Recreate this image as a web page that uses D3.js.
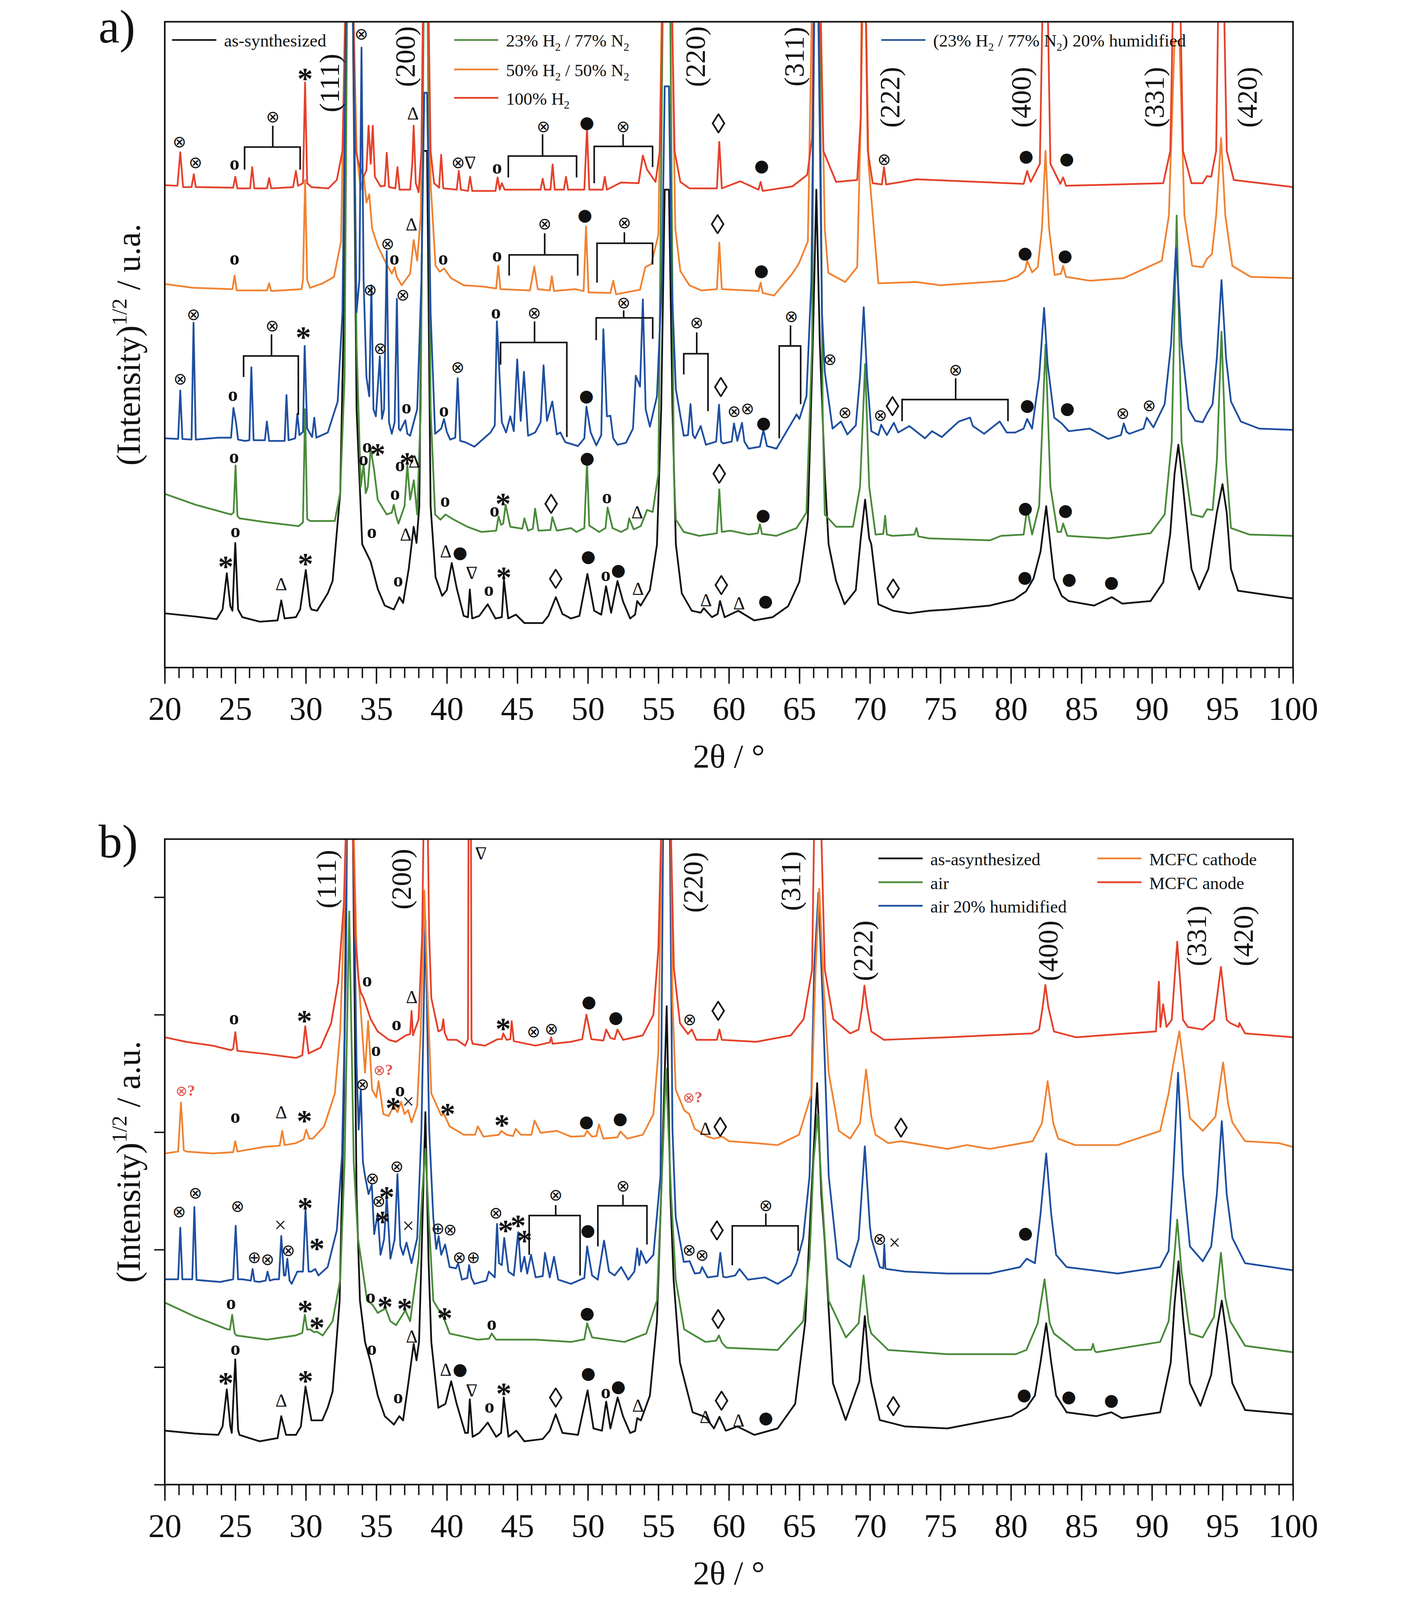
<!DOCTYPE html>
<html>
<head>
<meta charset="utf-8">
<script src="https://cdn.jsdelivr.net/npm/d3@7"></script>
<style>
  html, body { margin: 0; padding: 0; background: #fff; overflow: hidden; }
  svg { display: block; width: 100vw; height: 100vh; }
</style>
</head>
<body>
<svg id="chart" viewBox="0 0 3590 4561" preserveAspectRatio="xMidYMin meet"></svg>
<script>
// XRD patterns, two panels. x = 2theta (deg), y = sqrt(intensity) in % of panel height

// ---------- panel a series ----------
const aAsSynth = [[20.0,8.4],[22.2,7.9],[23.68,7.5],[24.1,9],[24.4,14.6],[24.65,9.5],[24.8,8.8],[25.0,19.3],[25.2,9],[25.5,7.8],[26.75,7.1],[28.0,7.3],[28.26,10.4],[28.5,7.6],[29.3,7.8],[29.6,9],[30.0,15.1],[30.3,9.5],[30.4,9.0],[30.8,8.8],[31.56,11.5],[31.9,13.4],[32.44,27],[32.7,55],[32.95,110],[33.3,110],[33.6,40],[34.0,19.1],[34.6,16.4],[35.1,12.2],[35.6,9.6],[36.24,9.0],[36.64,10.9],[36.9,10.0],[37.3,15.3],[37.65,21.8],[37.85,19.3],[38.05,25],[38.3,80],[38.6,80],[38.85,25],[39.2,14],[39.67,11.1],[40.0,12],[40.35,16.2],[40.7,12.3],[41.2,8.0],[41.5,7.8],[41.63,12.1],[41.8,7.6],[42.3,8.0],[42.9,9.8],[43.45,7.6],[43.9,7.8],[44.05,13.6],[44.35,7.6],[44.9,8.2],[45.5,6.9],[46.8,6.9],[47.2,8.0],[47.73,10.9],[48.2,8.3],[48.8,7.6],[49.4,8.0],[49.97,14.5],[50.45,8.8],[50.95,8.2],[51.29,12.6],[51.65,8.5],[52.1,13.4],[52.5,10.2],[53.0,7.6],[53.35,8.2],[53.5,10.3],[53.75,9.6],[54.4,12.0],[54.9,19],[55.2,40],[55.45,74],[55.75,74],[56.0,40],[56.24,19.1],[56.66,11.5],[57.37,8.8],[58.0,8.5],[58.22,9.2],[58.8,7.8],[59.2,8.3],[59.37,10.3],[59.7,7.8],[60.66,8.8],[61.8,7.3],[63.1,7.8],[64.2,9.5],[65.0,13.3],[65.6,23],[65.95,50],[66.2,74],[66.45,50],[66.8,30],[67.07,19.1],[67.6,13.4],[68.2,9.8],[69.0,12],[69.35,20],[69.66,26.0],[69.95,20],[70.1,19.1],[70.6,9.8],[71.65,8.8],[72.8,8.4],[74.2,8.8],[75.6,9.0],[78.5,9.6],[80.2,10.5],[81.07,11.8],[81.6,13.8],[82.1,18],[82.5,25.0],[82.85,18],[83.07,13.8],[83.6,11.1],[84.1,10.3],[85.9,9.6],[87.15,10.9],[87.9,9.9],[89.9,10.3],[90.8,13.2],[91.3,20.8],[91.6,30],[91.87,34.5],[92.2,28],[92.8,15.3],[93.35,12.1],[94.0,15.3],[94.6,24],[95.0,28.4],[95.3,24],[95.6,15.3],[96.1,11.9],[98.3,11.2],[100,10.7]];

const aH23 = [[20.0,26.9],[22.2,25.2],[24.7,23.7],[24.88,24],[25.02,31.3],[25.15,23.5],[25.3,23.1],[27.2,22.5],[29.5,21.9],[29.8,22.5],[29.95,40],[30.1,23],[30.3,22.7],[32.06,22.7],[32.44,27.1],[32.75,45],[32.95,110],[33.3,110],[33.6,50],[33.9,28],[34.1,31.5],[34.25,27],[34.4,28],[34.6,33.9],[34.85,30.5],[35.1,26],[35.74,23.7],[36.1,24],[36.24,25.2],[36.4,23.5],[36.57,22.3],[37.0,25],[37.2,31.3],[37.4,26],[37.66,29.0],[37.9,23.7],[38.15,40],[38.35,100],[38.65,100],[38.85,40],[39.17,23.7],[39.55,22.9],[39.9,23.7],[40.5,22.9],[41.46,21.8],[42.46,21.0],[43.5,21.2],[43.67,23.4],[43.85,22.1],[44.0,22.3],[44.17,25.2],[44.5,21.8],[45.35,21.5],[45.5,23.1],[45.76,21.2],[46.1,21.5],[46.26,24.6],[46.5,21.2],[47.35,21.3],[47.48,23.3],[47.8,21.2],[48.8,21.6],[49.2,21.0],[49.75,21.6],[49.94,31.7],[50.1,22],[50.8,21.0],[51.25,21.6],[51.4,24.8],[51.75,21.6],[52.35,21.0],[52.8,21.5],[52.93,23.1],[53.25,21.4],[53.75,21.9],[54.2,24.4],[54.6,24.1],[55.0,30],[55.3,100],[55.85,100],[56.1,30],[56.24,22.9],[56.8,21.0],[57.9,20.4],[59.15,20.8],[59.32,27.6],[59.5,21],[60.1,21.2],[61.4,20.6],[62.05,20.8],[62.2,22.2],[62.35,20.7],[63.37,20.4],[64.8,21.6],[65.5,24.0],[65.9,50],[66.05,110],[66.4,110],[66.65,40],[66.8,23.7],[67.6,21.8],[68.8,21.8],[69.3,28],[69.66,47],[69.95,28],[70.4,20.6],[70.95,20.7],[71.08,23.5],[71.2,20.6],[71.6,20.4],[73.15,20.6],[73.3,21.6],[73.45,20.3],[74.2,20.0],[78.5,19.7],[79.3,20.4],[80.9,20.6],[81.15,24.6],[81.5,20.6],[82.0,25],[82.45,50],[82.8,28],[83.3,21.0],[83.55,21],[83.7,22.3],[84.0,20.4],[86.9,20.0],[89.9,20.8],[90.9,23.7],[91.4,35],[91.75,70],[92.1,35],[92.8,23.7],[93.6,23.3],[93.9,24.5],[94.3,24.4],[94.6,32],[94.93,52],[95.25,32],[95.6,21.6],[96.9,20.6],[100,20.4]];

const aH50 = [[20.0,59.4],[22.0,58.8],[24.8,58.6],[24.95,60.7],[25.1,58.4],[27.25,58.4],[27.4,59.5],[27.55,58.3],[29.7,58.6],[29.8,60],[29.95,75.5],[30.1,60],[30.3,58.8],[31.2,59.5],[32.0,60.5],[32.5,66],[32.85,110],[33.3,110],[33.6,80],[33.9,74],[34.1,76.3],[34.3,72],[34.5,73.3],[34.7,68],[35.1,65.3],[35.6,63],[36.1,61],[36.3,62.0],[36.45,60.5],[36.8,59.2],[37.4,61],[37.65,66.2],[37.9,63],[38.15,70],[38.35,110],[38.65,110],[38.85,75],[39.2,62.2],[39.5,61.3],[39.8,61.8],[40.3,60.3],[41.2,59.2],[42.5,59.0],[43.5,58.7],[43.65,62.2],[43.8,58.6],[45.9,58.4],[46.2,62.1],[46.45,58.6],[47.3,58.4],[47.45,60.6],[47.6,58.3],[49.1,58.6],[49.7,58.3],[49.87,68.3],[50.05,58.1],[51.6,58.0],[51.8,59.9],[52.0,57.8],[53.7,58.5],[54.07,62.0],[54.5,62.5],[55.0,67],[55.3,110],[55.9,110],[56.2,68],[56.56,61.4],[57.2,59.2],[58.05,58.4],[59.15,58.6],[59.32,65.8],[59.5,58.6],[62.1,58.3],[62.25,59.6],[62.4,58],[63.2,57.6],[64.5,61],[64.97,62.6],[65.6,66],[65.95,110],[66.45,110],[66.8,68],[67.05,61.1],[68.25,59.7],[69.1,62],[69.35,85],[69.5,105],[69.7,105],[69.9,78],[70.6,59.5],[73.3,59.7],[75,59.2],[79.6,59.9],[80.5,60.6],[81.0,61.5],[81.15,63.0],[81.5,61.2],[81.9,62],[82.2,68],[82.45,80],[82.7,68],[83.1,60.8],[83.55,61],[83.7,62.2],[83.9,60.5],[85.6,59.9],[88.0,60.3],[90.7,63.0],[91.2,70],[91.6,97],[91.95,97],[92.3,70],[92.85,62.2],[93.6,62],[93.9,63.3],[94.25,64],[94.55,70],[94.9,82],[95.2,70],[95.7,62.2],[97,60.5],[100,60.3]];

const aH100 = [[20.0,74.7],[20.9,74.6],[21.1,79.8],[21.3,74.4],[21.9,74.4],[22.06,76.4],[22.2,74.4],[24.85,74.3],[25.0,76.0],[25.15,74.2],[26.05,74.2],[26.2,77.5],[26.35,74.2],[27.25,74.2],[27.4,75.8],[27.55,74.2],[29.1,74.4],[29.3,76.9],[29.45,74.6],[29.8,75],[29.95,90.6],[30.1,75],[30.4,74.4],[31.6,74.2],[32.2,75.5],[32.6,80],[32.9,110],[33.3,110],[33.55,80],[33.75,78],[34.1,76],[34.3,77],[34.45,83.9],[34.6,78],[34.75,83.9],[34.9,76],[35.3,74.5],[35.6,74.6],[35.74,79.7],[35.9,74.4],[36.35,74.2],[36.5,77.5],[36.65,74],[37.4,74],[37.55,78],[37.65,83.9],[37.8,75],[38.0,73.6],[38.2,80],[38.35,110],[38.65,110],[38.85,80],[39.1,75],[39.45,74.3],[39.6,79.4],[39.75,74.2],[40.7,74],[40.85,76.9],[41.0,74],[41.5,73.8],[41.65,76],[41.8,73.8],[43.45,73.8],[43.6,75.9],[43.75,74],[43.9,75],[44.1,74],[46.65,74],[46.8,75.7],[46.95,74],[47.35,74],[47.5,77.9],[47.65,74],[48.3,74],[48.45,76],[48.6,74],[49.75,74],[49.94,83.5],[50.1,74],[51.05,74],[51.2,76],[51.35,74],[52.35,75.1],[53.6,75],[53.9,79.3],[54.2,77.1],[54.8,75.2],[55.1,80],[55.35,110],[55.9,110],[56.15,80],[56.56,75.2],[57.2,74.2],[59.15,74.2],[59.32,81.4],[59.5,74.2],[60.8,75.3],[62.1,74],[62.25,75.2],[62.4,73.8],[64.5,74.5],[65.56,76.3],[65.9,82],[66.05,110],[66.4,110],[66.7,80],[67.6,75.2],[69.1,75.5],[69.35,85],[69.45,110],[69.65,110],[69.85,80],[70.2,75],[70.85,74.8],[71.0,77.5],[71.15,74.8],[73.3,75.6],[80.9,74.9],[81.15,76.9],[81.4,75.2],[82.05,78],[82.3,110],[82.55,110],[82.8,78],[83.5,74.9],[83.7,75.9],[83.9,74.6],[90.8,75],[91.3,80],[91.55,110],[91.95,110],[92.2,80],[92.8,75],[93.6,75],[93.9,76.1],[94.2,76],[94.55,80],[94.75,110],[95.05,110],[95.3,80],[95.8,75.5],[100,74.4]];

const aHumid = [[20.0,35.5],[20.95,35.4],[21.1,42.9],[21.25,35.4],[21.9,35.3],[22.04,53.4],[22.2,35.3],[23.8,35.6],[24.7,35.6],[24.87,40.2],[25.05,38],[25.2,35.3],[25.7,35.1],[26.0,35.2],[26.14,46.5],[26.3,35.2],[27.1,35.2],[27.24,38.1],[27.4,35.1],[28.5,35.1],[28.63,42.2],[28.78,35.2],[29.25,35.5],[29.4,39.3],[29.55,36],[29.8,36.5],[29.92,49.8],[30.1,37],[30.45,35.7],[30.6,38.7],[30.75,35.6],[31.56,36.4],[32.26,41.2],[32.6,55],[32.9,110],[33.3,110],[33.6,55],[33.8,60],[33.95,96],[34.1,60],[34.3,45],[34.5,42],[34.65,59.2],[34.8,40],[34.97,38.9],[35.25,48.2],[35.4,38.5],[35.55,40],[35.74,64.5],[35.9,38],[36.1,36.2],[36.3,38],[36.46,57.1],[36.6,37],[36.7,36.7],[37.06,38.3],[37.2,36.2],[37.4,35.9],[37.9,40],[38.2,60],[38.4,89],[38.6,89],[38.85,55],[39.17,36.2],[39.6,37],[39.8,38.5],[40.0,36.5],[40.24,35.3],[40.6,35.6],[40.77,44.8],[40.95,35.1],[41.3,34.9],[41.96,34.2],[43.1,36.4],[43.4,37.5],[43.55,53.6],[43.7,46.9],[43.9,38],[44.2,36.4],[44.5,38.9],[44.75,36.6],[44.99,47.7],[45.24,38.2],[45.47,45.8],[45.76,35.9],[46.26,36.4],[46.65,38],[46.86,46.8],[47.1,38.2],[47.48,41.2],[47.8,36.1],[48.05,36.4],[48.4,34.9],[49.3,34.3],[49.75,35.5],[49.9,40.4],[50.2,36.4],[50.6,34.4],[50.95,36],[51.1,52.4],[51.35,38.9],[51.6,39.0],[51.8,35.5],[52.1,34.5],[52.7,34.8],[53.2,37],[53.4,45.2],[53.7,43.5],[53.9,57],[54.1,40],[54.4,37.3],[54.9,42],[55.25,60],[55.45,90],[55.75,90],[55.94,60],[56.24,43.1],[56.8,35.9],[57.1,36],[57.28,40.8],[57.45,36],[57.6,35.5],[58.0,37.4],[58.37,34.5],[59.1,35],[59.3,40.7],[59.45,35],[59.6,34.7],[60.2,35],[60.36,37.8],[60.6,35.1],[60.93,37.9],[61.1,35],[61.4,33.9],[62.2,34.2],[62.45,36.8],[62.7,34.3],[63.37,33.9],[64.1,36.6],[64.8,39.2],[65.0,38.5],[65.5,42],[65.85,60],[66.05,100],[66.35,100],[66.6,55],[66.8,45.8],[67.35,37],[67.95,38.1],[68.4,36.1],[69.0,37.5],[69.3,45],[69.56,55.8],[69.8,45],[70.1,36.6],[70.6,36],[70.8,37.6],[71.2,36],[71.7,37.9],[72.0,36.4],[72.8,37.4],[73.9,35.5],[74.4,36.6],[75.1,35.7],[76.3,38.1],[77.1,38.7],[77.3,37.4],[78.1,36.2],[79.2,38.1],[79.7,36.4],[80.3,36.4],[80.9,37],[81.15,38.5],[81.5,37],[82.0,45],[82.35,55.7],[82.6,47],[83.07,38.7],[83.6,37.8],[84.1,36.6],[85.6,37],[86.9,35.4],[87.8,36],[88.0,37.8],[88.2,36.5],[88.4,36.2],[89.4,37],[89.63,38.7],[90.1,37.2],[90.9,40.8],[91.35,50],[91.7,65],[92.1,50],[92.6,40],[93.07,38.2],[93.6,38],[93.9,39.3],[94.3,40.8],[94.6,48],[94.93,60],[95.25,48],[95.6,41.2],[96.3,38.1],[97.6,37],[100,36.8]];

// ---------- panel b series ----------
const bAsSynth = [[20.0,8.35],[22.17,7.9],[23.8,7.7],[24.1,9],[24.4,14.75],[24.65,9],[24.75,8.0],[25.0,19.4],[25.2,8.5],[25.3,7.7],[26.73,6.7],[28.0,7.2],[28.26,10.6],[28.6,7.7],[29.3,7.7],[29.65,9],[29.98,15.2],[30.4,9.95],[31.17,9.95],[31.55,11.9],[31.9,14.4],[32.4,28.5],[32.7,60],[32.95,110],[33.3,110],[33.6,45],[33.84,28.5],[34.2,22.1],[34.6,18.9],[35.1,13.8],[35.6,10.6],[36.25,9.3],[36.63,10.6],[36.9,9.95],[37.27,15.7],[37.65,21.8],[37.85,19.25],[38.03,22.1],[38.2,35],[38.48,57.7],[38.7,35],[38.9,22.1],[39.4,11.9],[39.9,12.5],[40.31,16.0],[40.7,12.5],[41.3,8.0],[41.5,8],[41.63,13.2],[41.83,7.4],[42.3,8.0],[42.9,9.6],[43.5,7.4],[43.85,8],[44.04,13.5],[44.37,7.4],[44.93,8.35],[45.5,6.7],[46.8,7.06],[47.3,8.35],[47.72,10.9],[48.2,8.0],[49.3,7.7],[49.98,14.6],[50.4,8.7],[51.0,8.35],[51.3,12.85],[51.6,8.7],[52.11,13.5],[52.49,10.6],[53.0,8.0],[53.35,8.3],[53.5,10.3],[53.76,9.95],[54.4,13.8],[54.9,25.3],[55.2,45],[55.59,74.1],[55.85,45],[56.08,31.75],[56.53,18.9],[57.43,11.2],[58.34,10.46],[58.94,8.7],[59.33,10.5],[59.78,8.35],[60.6,9.0],[61.8,7.7],[63.46,8.7],[64.7,12.5],[65.42,25.3],[65.85,45],[66.26,62.2],[66.55,45],[66.78,38.2],[67.38,15.7],[68.28,10.0],[69.25,16],[69.64,26.1],[69.95,18],[70.1,15.7],[70.7,10.0],[72.5,9.0],[75.5,8.7],[80.03,10.6],[81.09,11.9],[81.7,13.8],[82.1,19],[82.5,25.0],[82.85,19],[83.2,13.8],[83.95,11.2],[86.06,10.6],[87.12,11.2],[87.87,10.3],[90.58,11.2],[91.33,18.9],[91.6,28],[91.88,34.6],[92.2,26],[92.69,15.7],[93.44,12.2],[94.2,17.0],[94.6,24],[94.95,28.5],[95.3,23],[95.7,15.7],[96.6,11.55],[100,10.9]];

const bAir = [[20.0,28.2],[22.17,26.0],[24.45,24.05],[24.62,24],[24.78,26.3],[24.95,23.5],[25.08,23.1],[27.24,22.45],[29.27,23.1],[29.75,23.5],[29.93,26.3],[30.1,24],[30.3,24.05],[30.6,23.6],[30.79,23.7],[31.2,23.1],[31.9,25.3],[32.44,31.75],[32.75,50],[33.08,88.8],[33.4,50],[33.7,38.2],[34.35,28.5],[34.72,27.9],[35.1,26.6],[35.66,27.3],[36.0,25.3],[36.4,24.7],[37.06,27.0],[37.4,25.3],[38.0,35.0],[38.25,45],[38.48,52],[38.75,40],[39.04,28.5],[39.8,25.7],[40.2,23.4],[42.2,22.45],[43.0,22.6],[43.18,23.4],[43.5,22.45],[46.3,22.45],[48.8,22.1],[49.75,22.5],[49.95,25.0],[50.3,22.8],[52.6,22.1],[54.14,23.4],[54.9,28.5],[55.2,45],[55.54,64.45],[55.9,45],[56.23,31.75],[56.83,24.05],[58.34,22.1],[59.1,22.3],[59.3,23.1],[59.5,22],[59.84,21.2],[63.46,20.85],[65.27,25.3],[65.72,35.0],[66.0,50],[66.29,57.4],[66.6,45],[67.08,28.5],[68.3,22.8],[69.2,25],[69.55,32.4],[69.9,25],[70.1,23.4],[71.3,20.85],[75.5,20.2],[80.34,20.2],[81.09,20.85],[81.9,25],[82.38,31.8],[82.75,25],[83.05,23.4],[84.55,20.85],[85.7,20.9],[85.82,21.8],[85.95,20.7],[86.06,20.5],[90.58,22.1],[91.18,25.3],[91.5,33],[91.79,41.05],[92.1,33],[92.69,23.4],[93.6,22.8],[94.4,26],[94.89,35.9],[95.2,29],[95.55,25.3],[96.6,21.5],[100,20.5]];

const bAirHumid = [[20.0,31.8],[20.95,31.8],[21.1,39.8],[21.25,31.8],[21.95,31.8],[22.1,43.0],[22.25,31.7],[23.94,31.4],[24.85,31.8],[25.03,40.1],[25.2,31.8],[25.5,31.8],[26.1,31.6],[26.23,33.4],[26.36,31.5],[26.7,31.4],[27.15,31.6],[27.29,33.0],[27.45,31.6],[27.75,31.8],[28.1,31.8],[28.26,38.5],[28.45,32.4],[28.55,32.4],[28.69,35.0],[28.85,31.6],[29.0,31.1],[29.4,33.0],[29.8,33],[29.98,42.5],[30.2,33],[30.4,33.0],[30.67,33.4],[30.9,32.4],[31.55,33.7],[32.2,39.4],[32.57,51.0],[32.85,80],[32.95,110],[33.3,110],[33.6,65],[33.75,55],[33.9,61.2],[34.05,50],[34.2,47.8],[34.45,45],[34.68,46.5],[34.85,38.8],[35.1,42.0],[35.3,35.6],[35.55,38],[35.74,44.6],[36.0,35.0],[36.3,38],[36.5,48.1],[36.7,37],[36.9,35.6],[37.14,37.5],[37.5,34.3],[37.9,38.2],[38.2,55],[38.48,87.5],[38.75,55],[39.04,41.4],[39.25,36.5],[39.42,38.5],[39.6,35.6],[39.88,37.2],[40.2,33.7],[40.65,33.5],[40.8,34.3],[41.07,31.75],[41.45,32],[41.58,34.0],[41.75,32],[41.96,31.1],[42.8,31.6],[42.98,33.0],[43.4,32.1],[43.56,40.4],[43.7,34.3],[43.9,34],[44.07,38.2],[44.37,33.0],[44.75,32.4],[45.06,39.1],[45.26,33.0],[45.5,35.3],[45.7,32.7],[45.97,35.6],[46.3,32.1],[46.8,32.3],[46.96,35.9],[47.3,32.1],[47.6,35.3],[47.9,31.75],[48.8,31.1],[49.75,32],[49.95,36.9],[50.3,32.4],[50.7,31.75],[51.15,37.8],[51.5,33.0],[51.9,32.4],[52.36,33.7],[52.87,31.75],[53.3,33],[53.5,36.6],[53.65,34],[53.76,36.2],[54.14,34.3],[54.65,35.6],[55.15,47.8],[55.35,105],[55.8,105],[56.0,55],[56.23,41.4],[56.8,34.5],[57.22,34.6],[57.58,32.7],[57.95,32.8],[58.1,33.7],[58.49,32.1],[59.2,32.3],[59.39,35.9],[59.6,32.2],[59.8,32.1],[60.45,32.4],[60.75,33.4],[61.35,31.75],[62.56,32.1],[63.46,31.1],[64.4,32.4],[64.8,34.3],[65.27,38.2],[65.72,47.8],[66.05,80],[66.35,91.7],[66.65,75],[67.08,47.8],[67.7,35.0],[68.6,33.7],[69.2,38],[69.64,52.4],[70.0,40],[70.1,38.2],[70.7,33.7],[70.95,33.5],[71.02,37.2],[71.1,33.5],[71.18,33.4],[72.5,33.0],[75.5,32.7],[78.5,32.7],[80.64,33.7],[81.12,35.0],[81.7,34.3],[82.1,42],[82.5,51.3],[82.85,42],[83.2,35.6],[83.95,33.7],[87.57,32.7],[90.58,33.7],[91.18,36.2],[91.5,48],[91.85,63.8],[92.2,48],[92.69,36.9],[93.6,34.6],[94.2,36.9],[94.6,45],[94.95,56.3],[95.3,45],[95.7,38.2],[96.6,34.3],[100,33.2]];

const bCathode = [[20.0,51.3],[20.95,51.6],[21.15,59.2],[21.35,51.8],[21.53,51.6],[23.4,51.3],[24.85,51.5],[25.0,53.2],[25.15,51.6],[27.0,52.3],[28.15,52.5],[28.33,54.8],[28.5,52.6],[29.3,52.9],[29.85,53.5],[30.03,55.0],[30.25,53.6],[30.5,53.6],[31.3,55.5],[32.06,60.6],[32.44,70.2],[32.75,90],[32.95,110],[33.3,110],[33.6,83.0],[34.0,70.2],[34.2,63.8],[34.42,71.8],[34.7,61.2],[35.0,60],[35.16,62.5],[35.5,57.4],[35.87,57.1],[36.25,58.7],[36.5,57.7],[36.76,59.3],[37.0,57.4],[37.26,58.0],[37.5,56.1],[37.9,58.7],[38.15,70.2],[38.41,92],[38.65,75],[38.9,60.6],[39.6,57.2],[39.8,57.4],[40.2,55.5],[41.2,54.2],[42.0,54.2],[42.2,55.5],[42.6,53.9],[43.7,54.2],[43.86,54.8],[44.24,54.2],[44.7,54],[44.88,55.1],[45.26,54.2],[46.0,54.2],[46.22,56.4],[46.65,54.5],[47.8,54.8],[48.8,53.9],[49.75,54],[49.95,54.8],[50.3,53.9],[50.6,54],[50.79,55.8],[51.1,53.6],[52.1,53.8],[52.3,54.7],[52.8,53.6],[53.9,54.2],[54.65,57.4],[55.0,67],[55.3,110],[55.85,110],[56.0,75],[56.23,61.2],[56.83,58.0],[57.19,57.4],[57.58,55.1],[58.49,53.9],[58.94,53.6],[59.54,53.9],[60.0,53.2],[61.95,52.9],[63.46,52.6],[64.97,54.2],[65.87,60.6],[66.15,80],[66.41,92.3],[66.7,78],[67.08,63.8],[67.8,54.8],[68.6,53.6],[69.3,56],[69.73,64.3],[70.1,57],[70.4,54.2],[71.3,52.9],[72.2,53.2],[75.5,52.0],[76.87,52.6],[78.5,52.0],[81.54,53.2],[82.2,56],[82.6,62.5],[83.0,56],[83.35,53.6],[84.55,52.6],[87.57,52.6],[90.58,54.8],[91.18,60.6],[91.5,65],[91.94,70.2],[92.3,64],[92.69,56.8],[93.6,54.8],[94.5,57],[95.04,65.4],[95.4,59],[95.7,56.1],[96.6,53.2],[99.0,52.9],[100,52.3]];

const bAnode = [[20.0,69.3],[21.5,68.6],[23.4,68.0],[24.7,67.3],[24.85,67.5],[25.0,70.1],[25.15,67.2],[27.2,66.7],[29.3,66.1],[29.75,66.5],[29.96,71.0],[30.2,66.8],[31.05,67.7],[31.8,71.5],[32.3,77.9],[32.7,90],[32.95,110],[33.25,110],[33.5,85],[33.75,78],[33.89,76.3],[34.1,75.4],[34.6,72.1],[35.1,70.2],[35.9,68.9],[36.4,68.6],[37.1,69.6],[37.4,69.8],[37.5,73.4],[37.6,69.6],[38.0,72.1],[38.25,85],[38.4,110],[38.6,110],[38.75,85],[38.9,75.4],[39.4,70.2],[39.65,70.5],[39.75,72.1],[39.85,70],[40.06,68.9],[40.7,68.9],[41.3,68.0],[41.5,69],[41.55,110],[41.7,110],[41.75,69],[41.83,68.3],[42.7,68.0],[43.6,69.0],[43.9,69.0],[44.0,69.9],[44.24,68.9],[44.5,69],[44.6,71.8],[44.75,68.7],[46.3,68.0],[47.3,68.5],[47.4,69.3],[47.5,68.3],[48.8,68.6],[49.6,69],[49.9,72.8],[50.25,69],[51.1,68.8],[51.3,70.5],[51.6,69.2],[51.9,69],[52.1,70.5],[52.5,68.9],[53.9,69.6],[54.65,72.8],[55.0,83.0],[55.3,110],[55.8,110],[56.1,80],[56.53,71.5],[57.1,69.8],[57.37,70.5],[57.7,68.9],[59.15,68.9],[59.33,70.5],[59.5,68.9],[61.95,68.6],[64.4,69.6],[65.3,72.1],[65.9,79.8],[66.1,110],[66.45,110],[66.8,79.8],[67.4,72.1],[68.6,69.9],[69.2,70.5],[69.45,74],[69.61,77.3],[69.8,74],[70.1,70.2],[71.0,68.9],[75.5,69.3],[81.5,69.9],[82.0,70.5],[82.25,74],[82.44,77.4],[82.65,74],[83.05,70.2],[84.6,69.3],[90.28,70.2],[90.49,77.9],[90.6,70.9],[90.79,74.4],[91.03,70.9],[91.4,72],[91.79,84.1],[92.2,72],[92.54,70.9],[93.6,70.5],[94.4,72],[94.89,80.2],[95.3,72],[95.55,71.5],[96.15,70.9],[96.2,71.5],[96.6,69.9],[100,69.3]];

// ---------- axes ----------
const xMajorTicks = d3.range(20, 101, 5);
const xMinorTicks = d3.range(20, 101, 1);
const bYTicks = [0, 18.2, 36.4, 54.6, 72.8, 91.0];

// ---------- reflections (hkl) : [label, 2theta, height] ----------
const hklA = [["(111)",31.66,90.5],["(200)",37.03,94.6],["(220)",57.61,94.6],["(311)",64.6,94.6],["(222)",71.4,88.3],["(400)",80.7,88.3],["(331)",90.13,88.3],["(420)",96.73,88.3]];
const hklB = [["(111)",31.43,93.8],["(200)",36.76,93.8],["(220)",57.43,93.3],["(311)",64.36,93.5],["(222)",69.49,82.7],["(400)",82.6,82.7],["(331)",93.14,85.0],["(420)",96.46,85.0]];

// ---------- phase markers : [2theta, height, kind] ----------
// X ⊗, P ⊕, o, s *, D Δ, N ∇, B ●, L ◊, x ×, Q red ⊗?
const markA = [
  [21.04,81.3,'X'],[22.18,78.1,'X'],[24.95,77.8,'o'],[27.66,85.2,'X'],[29.95,92.1,'s'],[33.94,98.0,'X'],[37.6,85.8,'D'],[40.8,78.1,'X'],[41.65,78.2,'N'],[43.56,77.2,'o'],[46.85,83.7,'X'],[49.93,84.3,'B'],[52.5,83.7,'X'],[59.26,84.3,'L'],[62.32,77.6,'B'],[71.01,78.6,'X'],[81.08,79.1,'B'],[83.96,78.7,'B'],
  [24.95,63.1,'o'],[37.5,68.6,'D'],[35.8,65.5,'X'],[36.28,63.1,'o'],[39.74,63.1,'o'],[43.56,63.6,'o'],[46.94,68.6,'X'],[49.79,70.0,'B'],[52.59,68.8,'X'],[59.2,68.7,'L'],[62.3,61.4,'B'],[81.0,64.1,'B'],[83.84,63.7,'B'],
  [21.1,44.6,'X'],[22.04,54.6,'X'],[24.83,42.0,'o'],[27.62,52.8,'X'],[29.83,52.06,'s'],[34.57,58.4,'X'],[35.29,49.3,'X'],[36.88,57.6,'X'],[37.14,40.1,'o'],[39.8,39.6,'o'],[40.77,46.4,'X'],[43.48,54.8,'o'],[46.2,54.8,'X'],[49.9,42.0,'B'],[52.54,56.4,'X'],[57.72,53.3,'X'],[59.43,43.5,'L'],[60.37,39.6,'X'],[61.32,40.0,'X'],[62.46,37.8,'B'],[64.43,54.3,'X'],[67.17,47.6,'X'],[68.23,39.4,'X'],[70.74,39.0,'X'],[71.6,40.5,'L'],[76.08,46.0,'X'],[81.16,40.5,'B'],[84.0,40.05,'B'],[87.93,39.3,'X'],[89.8,40.5,'X'],
  [24.91,32.4,'o'],[34.35,34.0,'o'],[35.1,34.0,'s'],[34.09,32.05,'o'],[36.68,31.1,'o'],[37.19,32.6,'s'],[37.7,31.9,'D'],[36.33,26.7,'o'],[39.88,25.6,'o'],[43.38,24.13,'o'],[43.99,26.34,'s'],[47.4,25.4,'L'],[49.95,32.36,'B'],[51.35,26.15,'o'],[53.5,24.05,'D'],[59.32,30.07,'L'],[62.43,23.5,'B'],[81.02,24.6,'B'],[83.87,24.24,'B'],
  [25.01,20.9,'o'],[24.32,16.6,'s'],[28.26,12.9,'D'],[29.98,17.0,'s'],[34.68,20.8,'o'],[36.55,13.3,'o'],[37.09,20.6,'D'],[39.93,17.96,'D'],[40.94,17.7,'B'],[41.76,14.7,'N'],[42.98,11.8,'o'],[44.04,14.9,'s'],[47.72,13.8,'L'],[50.03,17.1,'B'],[51.27,14.15,'o'],[52.16,15.0,'B'],[53.56,12.2,'D'],[58.38,10.4,'D'],[59.46,12.8,'L'],[60.72,9.96,'D'],[62.6,10.2,'B'],[71.65,12.3,'L'],[80.99,13.9,'B'],[84.13,13.6,'B'],[87.13,13.1,'B']
];
const markB = [
  [24.91,72.0,'o'],[29.9,72.8,'s'],[34.35,77.9,'o'],[37.52,75.5,'D'],[36.43,71.1,'o'],[42.42,97.8,'N'],[44.0,71.6,'s'],[46.15,70.1,'X'],[47.42,70.5,'X'],[50.08,74.7,'B'],[51.98,72.3,'B'],[57.22,71.95,'X'],[59.24,73.43,'L'],
  [21.46,60.5,'Q'],[25.0,56.75,'o'],[28.26,57.7,'D'],[29.9,57.3,'s'],[34.98,67.1,'o'],[35.49,63.7,'Q'],[34.02,61.9,'X'],[36.68,60.9,'o'],[36.2,59.3,'s'],[37.27,59.2,'x'],[40.06,58.4,'s'],[43.91,56.6,'s'],[49.9,56.1,'B'],[52.29,56.6,'B'],[57.43,59.45,'Q'],[58.34,55.15,'D'],[59.39,55.47,'L'],[72.2,55.35,'L'],
  [21.02,42.2,'X'],[22.17,45.1,'X'],[25.16,43.0,'X'],[28.2,40.1,'x'],[29.96,43.8,'s'],[30.79,37.5,'s'],[26.35,35.08,'P'],[27.29,34.8,'X'],[28.76,36.2,'X'],[34.73,47.3,'X'],[35.18,43.8,'X'],[35.44,41.7,'s'],[35.74,45.5,'s'],[36.45,49.2,'X'],[37.27,40.0,'x'],[39.37,39.6,'P'],[40.23,39.4,'X'],[40.89,35.08,'X'],[41.88,35.08,'P'],[43.48,42.0,'X'],[44.17,40.3,'s'],[45.06,41.05,'s'],[45.51,38.7,'s'],[47.72,44.8,'X'],[50.0,39.3,'B'],[52.49,46.2,'X'],[57.19,36.24,'X'],[58.1,35.47,'X'],[59.15,39.44,'L'],[62.62,43.16,'X'],[70.69,37.97,'X'],[71.75,37.4,'x'],[81.03,38.9,'B'],
  [24.7,27.9,'o'],[29.96,27.9,'s'],[30.79,25.3,'s'],[34.6,28.9,'o'],[35.62,28.5,'s'],[37.01,28.2,'s'],[39.85,26.75,'s'],[43.18,24.7,'o'],[49.95,26.5,'B'],[59.24,25.66,'L'],
  [24.32,16.7,'s'],[25.01,20.8,'o'],[28.26,13.0,'D'],[29.98,17.0,'s'],[34.68,20.85,'o'],[36.55,13.3,'o'],[37.52,22.96,'D'],[39.93,17.77,'D'],[40.94,17.77,'B'],[41.76,14.6,'N'],[43.02,11.87,'o'],[44.04,15.07,'s'],[47.72,13.5,'L'],[50.03,17.13,'B'],[51.27,14.1,'o'],[52.16,15.07,'B'],[53.56,12.2,'D'],[58.34,10.46,'D'],[59.48,13.03,'L'],[60.69,9.95,'D'],[62.62,10.27,'B'],[71.66,12.2,'L'],[80.94,13.8,'B'],[84.1,13.5,'B'],[87.12,13.0,'B']
];

// ---------- brackets : [2thL, 2thR, bar, left leg end, right leg end, stem 2th, stem top] ----------
const bracketA = [
  [25.66,29.6,80.6,77.1,77.1,27.66,83.9],[44.36,49.2,79.2,75.9,75.9,46.79,82.6],[50.45,54.59,80.7,75.0,77.5,52.5,82.6],
  [44.42,49.28,63.9,60.7,60.7,46.94,67.25],[50.65,54.59,65.7,59.6,62.4,52.59,67.4],
  [25.59,29.47,48.25,45.0,39.1,27.57,51.6],[43.81,48.51,50.34,46.9,35.7,46.22,53.6],[50.59,54.6,54.15,50.7,50.9,52.54,55.3],
  [56.8,58.52,48.6,45.4,39.7,57.72,51.9],[63.57,65.09,49.8,35.5,40.8,64.37,53.0],[72.28,79.79,41.5,38.15,38.15,76.08,44.8]
];
const bracketB = [
  [45.84,49.45,41.69,35.6,32.4,47.72,43.3],[50.71,54.19,43.2,36.9,37.2,52.49,44.9],[60.24,64.91,40.08,33.99,36.2,62.62,42.0]
];

// ---------- legends : label pieces, [text, isSubscript] ----------
const legendA = [
  {parts:[["as-synthesized",0]], color:"#111111", col:0, row:0},
  {parts:[["23% H",0],["2",1],[" / 77% N",0],["2",1]], color:"#4a8a3a", col:1, row:0},
  {parts:[["50% H",0],["2",1],[" / 50% N",0],["2",1]], color:"#f08332", col:1, row:1},
  {parts:[["100% H",0],["2",1]], color:"#e5412b", col:1, row:2},
  {parts:[["(23% H",0],["2",1],[" / 77% N",0],["2",1],[") 20% humidified",0]], color:"#1f4fa0", col:2, row:0}
];
const legendB = [
  {parts:[["as-asynthesized",0]], color:"#111111", col:0, row:0},
  {parts:[["air",0]], color:"#4a8a3a", col:0, row:1},
  {parts:[["air 20% humidified",0]], color:"#1f4fa0", col:0, row:2},
  {parts:[["MCFC cathode",0]], color:"#f08332", col:1, row:0},
  {parts:[["MCFC anode",0]], color:"#e5412b", col:1, row:1}
];

const SERIF = "'Liberation Serif','Times New Roman',serif";
const SANS = "'DejaVu Sans',sans-serif";

const GLYPH = {
  X: {t:"\u2297", f:SANS, s:46, w:"normal", dy:0.30},
  P: {t:"\u2295", f:SANS, s:46, w:"normal", dy:0.30},
  o: {t:"o", f:SERIF, s:56, w:"bold", dy:0.23},
  s: {t:"*", f:SERIF, s:88, w:"bold", dy:0.52},
  D: {t:"\u0394", f:SERIF, s:52, w:"normal", dy:0.33},
  N: {t:"\u0394", f:SERIF, s:52, w:"normal", dy:0.33, rot:180},
  B: {t:"\u25CF", f:SANS, s:48, w:"normal", dy:0.30},
  L: {t:"\u25CA", f:SERIF, s:80, w:"normal", dy:0.36},
  x: {t:"\u00D7", f:SERIF, s:60, w:"normal", dy:0.30}
};

const svg = d3.select("#chart");
svg.append("rect").attr("width", 3590).attr("height", 4561).attr("fill", "#fff");

const x = d3.scaleLinear().domain([20, 100]).range([266, 3483]);

function drawPanel(cfg) {
  const y = d3.scaleLinear().domain([0, 100]).range([cfg.bottom, cfg.top]);
  const g = svg.append("g");

  const clipId = "clip-" + cfg.id;
  svg.append("clipPath").attr("id", clipId).append("rect")
    .attr("x", x(20)).attr("y", cfg.top).attr("width", x(100) - x(20)).attr("height", cfg.bottom - cfg.top);

  // curves
  const line = d3.line().x(d => x(d[0])).y(d => y(d[1]));
  const curves = g.append("g").attr("clip-path", `url(#${clipId})`);
  cfg.series.forEach(s => {
    curves.append("path").datum(s.data)
      .attr("d", line).attr("fill", "none")
      .attr("stroke", s.color).attr("stroke-width", 5)
      .attr("stroke-linejoin", "round");
  });

  // brackets
  cfg.brackets.forEach(b => {
    const [l, r, bar, lb, rb, st, stTop] = b;
    g.append("path")
      .attr("d", d3.line()([[x(l), y(lb)], [x(l), y(bar)], [x(r), y(bar)], [x(r), y(rb)]]))
      .attr("fill", "none").attr("stroke", "#111").attr("stroke-width", 4.5);
    g.append("path")
      .attr("d", d3.line()([[x(st), y(bar)], [x(st), y(stTop)]]))
      .attr("fill", "none").attr("stroke", "#111").attr("stroke-width", 4.5);
  });

  // markers
  cfg.marks.forEach(m => {
    const [tt, v, k] = m;
    if (k === 'Q') {
      const t = g.append("text").attr("x", x(tt)).attr("y", y(v)).attr("dy", "0.3em")
        .attr("text-anchor", "middle").attr("fill", "#e0524a");
      t.append("tspan").attr("font-family", SANS).attr("font-size", 40).text("\u2297");
      t.append("tspan").attr("font-family", SERIF).attr("font-weight", "bold").attr("font-size", 44).text("?");
      return;
    }
    const gl = GLYPH[k];
    g.append("text")
      .attr("transform", `translate(${x(tt)},${y(v)})` + (gl.rot ? ` rotate(${gl.rot})` : ""))
      .attr("dy", gl.dy + "em")
      .attr("text-anchor", "middle")
      .attr("font-family", gl.f).attr("font-size", gl.s).attr("font-weight", gl.w)
      .attr("fill", "#111").text(gl.t);
  });

  // hkl labels
  cfg.hkl.forEach(h => {
    g.append("text")
      .attr("transform", `translate(${x(h[1])},${y(h[2])}) rotate(-90)`)
      .attr("dy", "0.35em").attr("text-anchor", "middle")
      .attr("font-family", SERIF).attr("font-size", 80).attr("fill", "#111")
      .text(h[0]);
  });

  // frame
  g.append("rect").attr("x", x(20)).attr("y", cfg.top)
    .attr("width", x(100) - x(20)).attr("height", cfg.bottom - cfg.top)
    .attr("fill", "none").attr("stroke", "#111").attr("stroke-width", 4.5);

  // x axis
  const minor = g.append("g").attr("transform", `translate(0,${cfg.bottom})`)
    .call(d3.axisBottom(x).tickValues(xMinorTicks).tickSize(30).tickSizeOuter(0).tickFormat(""));
  const major = g.append("g").attr("transform", `translate(0,${cfg.bottom})`)
    .call(d3.axisBottom(x).tickValues(xMajorTicks).tickSize(46).tickSizeOuter(0).tickPadding(36).tickFormat(d3.format("d")));
  [minor, major].forEach(a => {
    a.select(".domain").remove();
    a.selectAll(".tick line").attr("stroke", "#111").attr("stroke-width", 4);
  });
  major.selectAll(".tick text").attr("font-family", SERIF).attr("font-size", 95).attr("fill", "#111");

  if (cfg.yTicks) {
    const ya = g.append("g").attr("transform", `translate(${x(20)},0)`)
      .call(d3.axisLeft(y).tickValues(cfg.yTicks).tickSize(30).tickSizeOuter(0).tickFormat(""));
    ya.select(".domain").remove();
    ya.selectAll(".tick line").attr("stroke", "#111").attr("stroke-width", 4);
  }

  // axis titles
  g.append("text").attr("x", (x(20) + x(100)) / 2).attr("y", cfg.bottom + 285)
    .attr("text-anchor", "middle").attr("font-family", SERIF).attr("font-size", 95).attr("fill", "#111")
    .text("2\u03B8 / \u00B0");

  const yt = g.append("text")
    .attr("transform", `translate(195,${(cfg.top + cfg.bottom) / 2}) rotate(-90)`)
    .attr("text-anchor", "middle").attr("font-family", SERIF).attr("font-size", 96).attr("fill", "#111");
  yt.append("tspan").text("(Intensity)");
  yt.append("tspan").attr("font-size", 60).attr("dy", -38).text("1/2");
  yt.append("tspan").attr("dy", 38).text(" / " + cfg.yUnit);

  // panel letter
  g.append("text").attr("x", 77).attr("y", cfg.letterY)
    .attr("font-family", SERIF).attr("font-size", 135).attr("fill", "#111").text(cfg.letter);

  // legend
  cfg.legend.forEach(l => {
    const lx = cfg.legendCols[l.col], ly = cfg.legendRows[l.row];
    g.append("line").attr("x1", lx).attr("x2", lx + 126).attr("y1", ly).attr("y2", ly)
      .attr("stroke", l.color).attr("stroke-width", 5);
    const t = g.append("text").attr("x", lx + 148).attr("y", ly + 19)
      .attr("font-family", SERIF).attr("font-size", 50).attr("fill", "#111");
    l.parts.forEach((p, i) => {
      const ts = t.append("tspan").text(p[0]);
      if (p[1]) ts.attr("font-size", 32).attr("dy", 12);
      else if (i > 0 && l.parts[i - 1][1]) ts.attr("dy", -12);
    });
  });
}

drawPanel({
  id: "a", top: 62, bottom: 1903, letter: "a)", letterY: 121, yUnit: "u.a.",
  series: [
    {data: aAsSynth, color: "#111111"},
    {data: aH23, color: "#4a8a3a"},
    {data: aH50, color: "#f08332"},
    {data: aH100, color: "#e5412b"},
    {data: aHumid, color: "#1f4fa0"}
  ],
  brackets: bracketA, marks: markA, hkl: hklA, yTicks: null,
  legend: legendA, legendCols: [287, 1091, 2309], legendRows: [114, 198, 279]
});

drawPanel({
  id: "b", top: 2392, bottom: 4232, letter: "b)", letterY: 2444, yUnit: "a.u.",
  series: [
    {data: bAsSynth, color: "#111111"},
    {data: bAir, color: "#4a8a3a"},
    {data: bAirHumid, color: "#1f4fa0"},
    {data: bCathode, color: "#f08332"},
    {data: bAnode, color: "#e5412b"}
  ],
  brackets: bracketB, marks: markB, hkl: hklB, yTicks: bYTicks,
  legend: legendB, legendCols: [2301, 2925], legendRows: [2447, 2515, 2582]
});
</script>
</body>
</html>
